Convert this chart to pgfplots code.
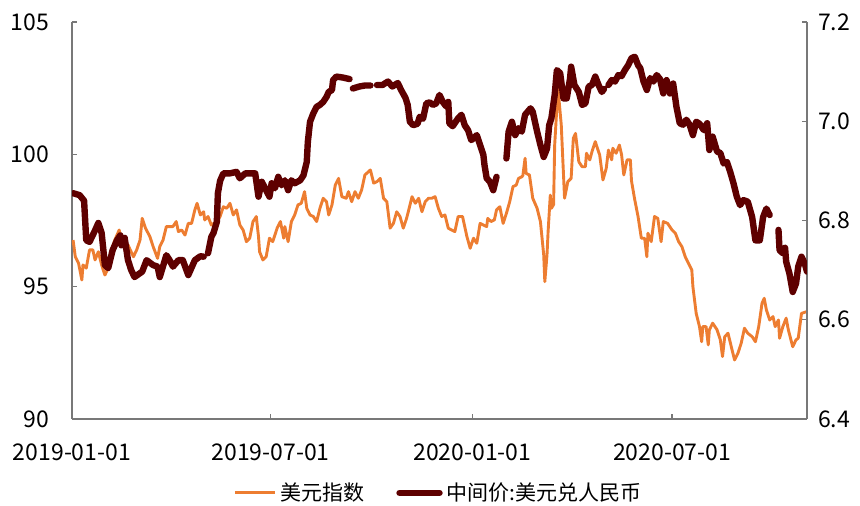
\documentclass[border=0pt]{standalone}
\usepackage{fontspec}
\setmainfont{Noto Sans CJK SC}
\usepackage{pgfplots}
\usepackage{pgfplotstable}
\pgfplotsset{compat=1.18}

\definecolor{dxy}{RGB}{237,125,49}
\definecolor{cny}{RGB}{94,0,0}
\definecolor{axisgray}{RGB}{120,120,120}

% x = days since 2019-01-01
\pgfplotstableread{
day val
1 96.76
3 96.13
6 95.88
9 95.25
10 95.82
13 95.70
16 96.39
19 96.39
21 96.01
24 96.32
27 95.82
30 95.44
33 95.70
36 96.39
39 96.76
43 97.14
47 96.51
51 96.58
56 96.13
59 96.39
62 96.76
64 97.58
67 97.21
71 96.89
74 96.51
78 96.07
80 96.51
83 96.76
86 97.27
92 97.27
95 97.46
97 97.08
100 97.14
103 96.95
106 97.39
109 97.39
112 97.90
114 98.15
117 97.71
120 97.83
121 97.52
124 97.65
127 97.33
132 97.46
135 97.65
138 98.02
141 97.96
144 98.15
147 97.71
150 97.90
153 97.33
156 97.14
159 96.70
162 96.83
165 97.46
167 97.58
168 97.65
170 96.90
171 96.32
174 96.01
177 96.13
180 96.83
183 96.70
187 97.21
190 97.46
193 96.83
194 97.27
197 96.70
200 97.46
203 97.71
206 98.09
209 98.15
212 98.59
214 97.96
217 97.71
220 97.65
223 97.46
226 97.96
229 98.34
232 98.21
234 97.71
237 98.09
240 98.84
243 99.09
246 98.40
250 98.34
252 98.59
255 98.21
258 98.59
261 98.34
264 98.65
267 99.22
272 99.41
275 98.91
278 98.97
281 99.09
284 98.34
287 98.21
290 97.21
293 97.39
296 97.83
299 97.65
302 97.21
305 97.58
310 98.40
313 98.15
316 98.34
319 97.83
322 98.21
325 98.34
328 98.34
331 98.40
334 97.96
337 97.65
340 97.71
343 97.21
346 97.14
349 97.08
352 97.65
356 97.65
360 96.89
363 96.45
366 96.83
369 96.64
372 97.39
375 97.33
378 97.27
379 97.58
382 97.46
385 97.52
387 97.90
390 98.02
393 97.39
396 97.77
399 98.21
402 98.78
405 98.84
407 99.09
410 99.15
411 99.20
413 99.85
414 99.28
417 99.22
420 98.34
424 97.96
427 97.46
430 96.20
431 95.19
433 96.20
434 97.08
436 98.46
437 97.96
439 98.10
440 100.35
443 102.50
446 101.11
449 98.34
452 98.97
455 99.09
457 100.61
459 100.79
462 99.72
465 99.53
468 99.53
469 100.04
472 99.79
474 100.10
477 100.48
480 100.10
481 99.98
484 99.03
487 99.47
489 100.16
492 99.79
493 100.23
496 100.04
499 100.35
501 99.98
503 99.22
506 99.79
509 99.79
510 99.00
513 98.28
516 97.65
519 96.83
522 96.83
524 96.13
525 97.02
528 96.70
531 97.65
534 97.58
537 96.70
539 97.46
543 97.39
547 97.14
550 97.02
553 96.70
556 96.51
559 96.13
562 95.88
565 95.63
566 95.00
569 93.99
572 93.49
574 92.92
575 93.49
578 93.49
580 92.80
581 93.37
584 93.62
588 93.37
591 92.99
593 92.36
595 93.11
598 93.24
601 92.73
604 92.23
607 92.48
610 92.86
613 93.43
616 93.24
620 93.11
623 92.92
626 93.49
629 94.37
631 94.56
633 94.12
636 93.74
639 93.87
641 93.49
644 93.74
645 93.05
648 93.49
651 93.81
653 93.37
657 92.73
660 92.99
662 93.05
665 93.99
670 94.06
}\dxytable

% central parity; nan rows mark the market holidays
\pgfplotstableread{
day val
1 6.855
7 6.851
11 6.840
13 6.760
16 6.757
21 6.780
24 6.795
27 6.775
30 6.710
33 6.704
37 6.740
41 6.760
44 6.770
45 6.750
48 6.765
51 6.720
54 6.700
57 6.686
64 6.697
68 6.720
74 6.710
78 6.707
80 6.686
86 6.730
89 6.720
92 6.707
97 6.720
101 6.720
106 6.690
112 6.720
117 6.728
120 6.727
122 nan
124 6.734
127 6.767
129 6.775
132 6.797
133 6.855
135 6.880
138 6.895
144 6.895
150 6.898
153 6.885
158 6.895
162 6.895
167 6.895
170 6.848
173 6.878
176 6.865
180 6.848
182 6.875
185 6.865
188 6.888
191 6.871
194 6.881
197 6.861
200 6.881
203 6.875
208 6.881
211 6.891
214 6.918
215 6.959
217 6.999
220 7.016
223 7.029
226 7.033
229 7.039
232 7.049
234 7.059
237 7.063
238 7.083
241 7.090
247 7.088
253 7.085
254 nan
256 7.066
262 7.070
267 7.072
272 7.072
275 nan
278 7.073
283 7.073
288 7.080
292 7.070
297 7.077
300 7.063
304 7.047
306 7.033
308 6.999
311 6.992
315 6.995
317 7.009
320 7.005
323 7.036
326 7.038
329 7.033
332 7.036
335 7.053
338 7.039
341 7.030
343 7.039
344 6.996
347 6.990
352 7.006
355 7.013
358 6.992
361 6.982
364 6.962
369 6.972
372 6.952
375 6.932
376 6.912
378 6.885
381 6.878
384 6.861
387 6.888
390 nan
396 6.925
398 6.979
401 6.999
404 6.972
407 6.986
410 6.979
413 7.013
418 7.026
420 7.019
424 6.979
427 6.952
430 6.928
433 6.945
435 6.992
437 7.006
440 7.053
442 7.103
445 7.097
448 7.046
451 7.046
454 7.086
455 7.110
458 7.073
462 7.059
465 7.033
468 7.036
471 7.070
474 7.073
477 7.090
480 7.073
483 7.059
485 7.065
487 nan
489 7.073
492 7.083
495 7.080
498 7.093
501 7.091
504 7.103
507 7.113
510 7.127
513 7.130
516 7.113
518 7.107
521 7.080
524 7.063
527 7.087
530 7.080
533 7.093
536 7.085
539 7.056
540 nan
542 7.083
545 7.056
548 7.076
551 7.029
554 6.996
557 6.993
560 7.003
563 6.993
566 6.972
569 6.999
572 6.995
576 6.982
579 6.996
581 6.942
584 6.969
588 6.939
591 6.936
594 6.915
597 6.918
600 6.898
603 6.875
606 6.848
609 6.831
612 6.841
616 6.838
620 6.807
623 6.760
627 6.760
630 6.807
633 6.824
636 6.811
640 nan
644 6.781
645 6.740
648 6.734
650 6.745
651 6.717
654 6.693
657 6.656
660 6.673
662 6.707
665 6.727
668 6.713
670 6.697
}\cnytable

\pgfplotsset{
  twin/.style={
    at={(36pt,43.5pt)}, anchor=south west,
    scale only axis, width=367.5pt, height=198.5pt,
    xmin=0, xmax=670,
    tick align=inside, major tick length=2.5pt,
    axis line style={draw=axisgray, line width=0.7pt},
    every tick/.style={draw=axisgray, line width=0.7pt},
    ticklabel style={font=\fontsize{11.5pt}{13pt}\selectfont, text=black},
    /pgf/number format/assume math mode=true,
    unbounded coords=jump,
  }
}

\begin{document}
\begin{tikzpicture}
\useasboundingbox (0,0) rectangle (430pt,253pt);
% left axis: dollar index
\begin{axis}[twin,
  ymin=90, ymax=105, ytick={90,95,100,105},
  axis x line*=bottom, axis y line*=left,
  xtick={0,181,365,547},
  xticklabels={2019-01-01,2019-07-01,2020-01-01,2020-07-01},
  xticklabel style={yshift=-9pt},
  yticklabel style={xshift=-8pt},
]
\addplot[dxy, line width=1.45pt, line join=round] table[x=day, y=val] {\dxytable};
\end{axis}
% right axis: central parity
\begin{axis}[twin,
  ymin=6.4, ymax=7.2, ytick={6.4,6.6,6.8,7.0,7.2},
  axis x line=none, axis y line*=right,
  yticklabel style={/pgf/number format/.cd, fixed, fixed zerofill, precision=1, /tikz/.cd, xshift=2pt},
  legend columns=2,
  legend style={at={(0.5,-0.186)}, anchor=center, draw=none, fill=none,
    font=\fontsize{10.5pt}{12pt}\selectfont, inner sep=0pt,
    /tikz/every even column/.append style={column sep=14pt}},
  legend image code/.code={\draw[#1] (0pt,0pt) -- (20pt,0pt);},
]
\addlegendimage{dxy, line width=1.45pt}
\addlegendentry{美元指数}
\addplot[cny, line width=3.2pt, line join=round, line cap=round] table[x=day, y=val] {\cnytable};
\addlegendentry{中间价:美元兑人民币}
\end{axis}
\end{tikzpicture}
\end{document}
